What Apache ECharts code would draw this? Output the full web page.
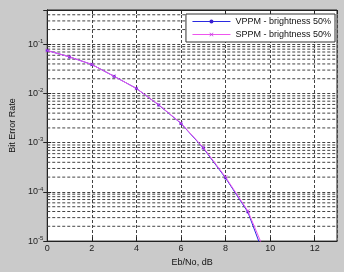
<!DOCTYPE html>
<html>
<head>
<meta charset="utf-8">
<script src="https://cdn.jsdelivr.net/npm/echarts@6/dist/echarts.min.js"></script>
<style>
  html, body { margin: 0; padding: 0; background: #cacaca; }
  #main { width: 344px; height: 272px; }
</style>
</head>
<body>
<div id="main"></div>
<script>
// Eb/No in dB
var ebno = [0, 1, 2, 3, 4, 5, 6, 7, 8, 9, 10];
// bit error rate
var vppm = [0.075, 0.0557, 0.039, 0.0224, 0.0127, 0.00586, 0.00247, 0.00078, 0.000192, 0.000039, 0.0000024];
var sppm = [0.075, 0.0557, 0.039, 0.0224, 0.0127, 0.0059, 0.0025, 0.0008, 0.0002, 0.000041, 0.0000034];
var seriesNames = ["VPPM - brightness 50%", "SPPM - brightness 50%"];

var font = "Liberation Sans";
var gridDash = [3, 2];
var gridColor = "#444";

// minor grid of the log axis (2..9 in each decade)
var minorLines = [];
for (var d = -5; d <= -1; d++) {
  for (var k = 2; k <= 9; k++) {
    var v = k * Math.pow(10, d);
    if (v < 0.5) minorLines.push([v]);
  }
}

function pairs(ys) {
  return ebno.map(function(x, i) { return [x, ys[i]]; });
}

var xMark = "path://M0,1L1,0L5,4L9,0L10,1L6,5L10,9L9,10L5,6L1,10L0,9L4,5Z";

var option = {
  backgroundColor: "#cacaca",
  animation: false,
  textStyle: { fontFamily: font },
  grid: { left: 36, right: 7, top: 10, bottom: 25, show: true, backgroundColor: "#ffffff", borderColor: "#222", borderWidth: 1 },
  legend: {
    right: 9,
    top: 14,
    orient: "vertical",
    backgroundColor: "#ffffff",
    borderColor: "#333",
    borderWidth: 1,
    borderRadius: 0,
    padding: [3, 4, 3, 6],
    itemGap: 4,
    itemWidth: 38,
    itemHeight: 5,
    lineStyle: { width: 1 },
    textStyle: { fontSize: 9, color: "#111", fontFamily: font },
    data: seriesNames
  },
  xAxis: [
    {
      type: "value",
      min: 0,
      max: 13,
      interval: 2,
      name: "Eb/No, dB",
      nameLocation: "middle",
      nameGap: 15,
      nameTextStyle: { fontSize: 9, color: "#111" },
      axisLine: { lineStyle: { color: "#222" } },
      axisTick: { inside: true, length: 4, lineStyle: { color: "#222" } },
      axisLabel: { fontSize: 9, color: "#222", margin: 3, showMaxLabel: false },
      splitLine: { show: true, lineStyle: { color: gridColor, type: gridDash } }
    },
    {
      type: "value",
      position: "top",
      min: 0,
      max: 13,
      interval: 2,
      axisLine: { lineStyle: { color: "#222" } },
      axisTick: { inside: true, length: 4, lineStyle: { color: "#222" } },
      axisLabel: { show: false },
      splitLine: { show: false }
    }
  ],
  yAxis: [
    {
      type: "log",
      min: 0.00001,
      max: 0.5,
      logBase: 10,
      name: "Bit Error Rate",
      nameLocation: "middle",
      nameGap: 24,
      nameTextStyle: { fontSize: 9, color: "#111" },
      axisLine: { lineStyle: { color: "#222" } },
      axisTick: { inside: true, length: 4, lineStyle: { color: "#222" } },
      axisLabel: {
        margin: 4,
        color: "#222",
        formatter: function(v) {
          var e = Math.round(Math.log10(v));
          if (Math.abs(Math.log10(v) - e) > 1e-6) return "";
          return "{b|10}{e|" + e + "}";
        },
        rich: {
          b: { fontSize: 9, color: "#222", fontFamily: font },
          e: { fontSize: 6, color: "#222", fontFamily: font, padding: [0, 0, 6, 0] }
        }
      },
      splitLine: { show: true, lineStyle: { color: gridColor, type: gridDash } }
    },
    {
      type: "log",
      position: "right",
      min: 0.00001,
      max: 0.5,
      logBase: 10,
      axisLine: { lineStyle: { color: "#222" } },
      axisTick: { inside: true, length: 4, lineStyle: { color: "#222" } },
      axisLabel: { show: false },
      splitLine: { show: false }
    }
  ],
  series: [
    {
      // minor horizontal grid lines
      type: "custom",
      silent: true,
      z: 1,
      encode: { y: 0 },
      data: minorLines,
      renderItem: function(params, api) {
        var v = api.value(0);
        var a = api.coord([0, v]);
        var b = api.coord([13, v]);
        return {
          type: "line",
          shape: { x1: a[0], y1: a[1], x2: b[0], y2: b[1] },
          style: { stroke: gridColor, lineWidth: 1, lineDash: gridDash }
        };
      }
    },
    {
      name: seriesNames[0],
      type: "line",
      data: pairs(vppm),
      symbol: "circle",
      symbolSize: 3,
      showAllSymbol: true,
      lineStyle: { color: "#2a2ae0", width: 1 },
      itemStyle: { color: "#3a1fd0" },
      z: 3
    },
    {
      name: seriesNames[1],
      type: "line",
      data: pairs(sppm),
      symbol: xMark,
      symbolSize: 4,
      showAllSymbol: true,
      lineStyle: { color: "#ee55ee", width: 1 },
      itemStyle: { color: "#c040e0" },
      z: 4
    }
  ]
};

var myChart = echarts.init(document.getElementById("main"));
myChart.setOption(option);
</script>
</body>
</html>
